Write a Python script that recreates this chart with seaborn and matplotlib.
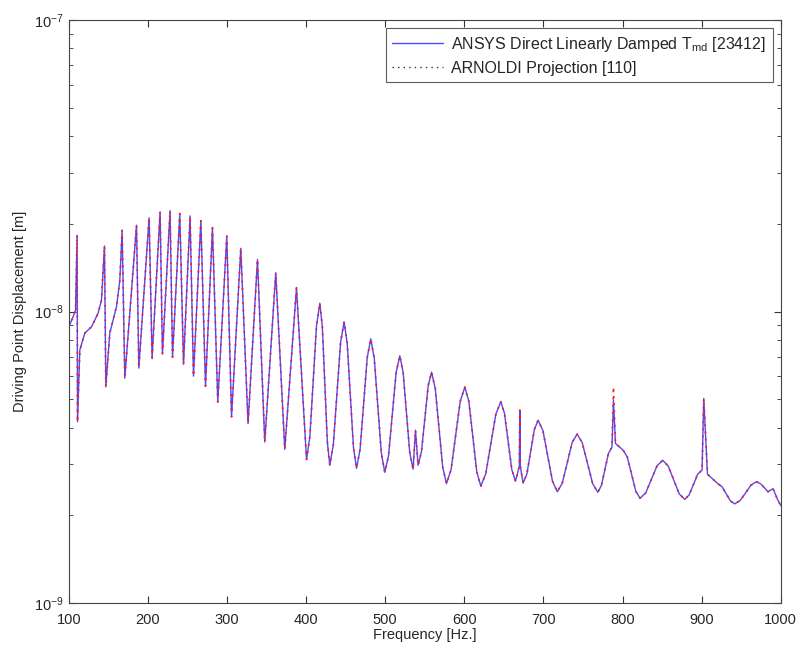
import numpy as np
import pandas as pd
import matplotlib
matplotlib.use("Agg")
import matplotlib.pyplot as plt
from matplotlib.lines import Line2D
import seaborn as sns

# Frequency response (displacement in nm)
freq_hz = [
    100.0, 105.4, 108.5, 110.5, 111.0, 113.9, 120.2, 128.7, 137.0, 141.3,
    145.1, 146.8, 151.8, 160.3, 164.5, 167.4, 170.8, 177.1, 185.6, 188.5,
    201.5, 205.3, 215.4, 218.4, 228.0, 231.1, 240.3, 245.0, 253.3, 257.6,
    266.9, 272.8, 281.6, 288.3, 299.7, 305.7, 317.4, 326.6, 338.5, 347.7,
    361.6, 373.0, 387.8, 400.5, 404.7, 413.1, 417.3, 420.5, 426.8, 429.9,
    434.4, 443.5, 448.0, 451.9, 459.8, 463.7, 468.2, 477.2, 481.7, 486.1,
    495.0, 499.4, 504.2, 513.7, 518.4, 522.6, 531.0, 535.2, 538.2, 541.5,
    545.8, 554.3, 558.5, 563.2, 572.7, 577.4, 583.2, 594.8, 600.6, 605.7,
    615.7, 620.8, 627.1, 639.8, 646.1, 650.7, 660.0, 664.6, 669.5, 670.1,
    670.7, 674.3, 679.0, 688.5, 693.2, 699.3, 711.4, 717.5, 723.8, 736.3,
    742.5, 749.0, 762.2, 768.7, 773.2, 782.1, 786.6, 788.5, 791.0, 800.6,
    806.0, 816.7, 822.1, 829.3, 843.6, 850.8, 857.8, 871.6, 878.6, 884.1,
    895.0, 900.5, 902.6, 907.3, 920.3, 925.7, 936.4, 941.8, 948.7, 962.4,
    969.2, 975.0, 983.9, 990.2, 995.5, 1000.0,
]
ansys_nm = [
    8.87, 9.60, 10.1, 18.3, 4.19, 7.38, 8.44, 8.87, 9.88, 10.95,
    16.8, 5.52, 8.44, 10.4, 12.8, 19.0, 5.91, 9.88, 19.8, 6.40,
    21.0, 6.93, 22.0, 7.15, 22.2, 6.98, 21.7, 6.60, 21.3, 6.01,
    20.5, 5.55, 19.4, 4.90, 18.15, 4.36, 16.5, 4.13, 15.1, 3.57,
    13.6, 3.37, 12.07, 3.11, 3.72, 8.93, 10.69, 8.87, 3.58, 2.97,
    3.50, 7.82, 9.23, 7.79, 3.43, 2.90, 3.37, 6.95, 8.07, 6.92,
    3.28, 2.81, 3.21, 6.17, 7.06, 6.19, 3.28, 2.88, 3.92, 2.97,
    3.31, 5.57, 6.20, 5.45, 2.92, 2.57, 2.87, 4.93, 5.51, 4.92,
    2.82, 2.52, 2.78, 4.45, 4.91, 4.48, 2.87, 2.62, 2.95, 4.59,
    2.95, 2.58, 2.77, 3.94, 4.24, 3.91, 2.62, 2.41, 2.58, 3.56,
    3.80, 3.55, 2.57, 2.40, 2.53, 3.26, 3.43, 4.97, 3.53, 3.35,
    3.17, 2.42, 2.29, 2.39, 2.96, 3.09, 2.95, 2.37, 2.27, 2.35,
    2.77, 2.86, 5.04, 2.77, 2.57, 2.51, 2.24, 2.19, 2.25, 2.54,
    2.61, 2.56, 2.41, 2.47, 2.28, 2.16,
]
# Arnoldi projection follows ANSYS except at the 788 Hz spike
arnoldi_nm = list(ansys_nm)
arnoldi_nm[freq_hz.index(788.5)] = 5.52

x_ticks = [100, 200, 300, 400, 500, 600, 700, 800, 900, 1000]
label_ansys = "ANSYS Direct Linearly Damped T$_{\\mathregular{md}}$ [23412]"
label_arnoldi = "ARNOLDI Projection [110]"

df = pd.DataFrame({
    "freq": freq_hz,
    "ansys": np.array(ansys_nm) * 1e-9,
    "arnoldi": np.array(arnoldi_nm) * 1e-9,
})

sns.set_style("ticks")
plt.rcParams["font.family"] = ["Liberation Sans", "DejaVu Sans"]
plt.rcParams["mathtext.fontset"] = "custom"
plt.rcParams["mathtext.rm"] = "Liberation Sans"

fig = plt.figure(figsize=(8, 6.52), dpi=100)
ax = fig.add_axes([0.086, 0.075, 0.890, 0.894])

sns.lineplot(data=df, x="freq", y="ansys", ax=ax, sort=False, estimator=None,
             color="#4a4aff", linewidth=1.0)
sns.lineplot(data=df, x="freq", y="arnoldi", ax=ax, sort=False, estimator=None,
             color="#ff1a1a", linewidth=1.3, linestyle=(0, (1, 3)))

ax.set_yscale("log")
ax.set_xlim(100, 1000)
ax.set_ylim(1e-9, 1e-7)
ax.set_xticks(x_ticks)
ax.set_xticklabels([str(t) for t in x_ticks])
ax.set_xlabel("Frequency [Hz.]", fontsize=10.5, labelpad=1)
ax.set_ylabel("Driving Point Displacement [m]", fontsize=10.5, labelpad=5)

ax.tick_params(which="both", direction="in", top=True, right=True,
               labelsize=10.5, color="#333333")
ax.tick_params(axis="x", pad=7)
ax.tick_params(which="major", length=5)
ax.tick_params(which="minor", length=3)
for s in ax.spines.values():
    s.set_color("#444444")
    s.set_linewidth(0.8)
    s.set_visible(True)

handles = [Line2D([], [], color="#4a4aff", linewidth=1.0),
           Line2D([], [], color="#333333", linewidth=1.0, linestyle=(0, (1, 3)))]
leg = ax.legend(handles, [label_ansys, label_arnoldi], loc="upper right",
                fontsize=11.5, frameon=True, fancybox=False, handlelength=3.2,
                handletextpad=0.5, borderaxespad=0.5, labelspacing=0.45,
                borderpad=0.4)
leg.get_frame().set_edgecolor("#333333")
leg.get_frame().set_linewidth(0.8)

fig.savefig("out.png", dpi=100, facecolor="white")
